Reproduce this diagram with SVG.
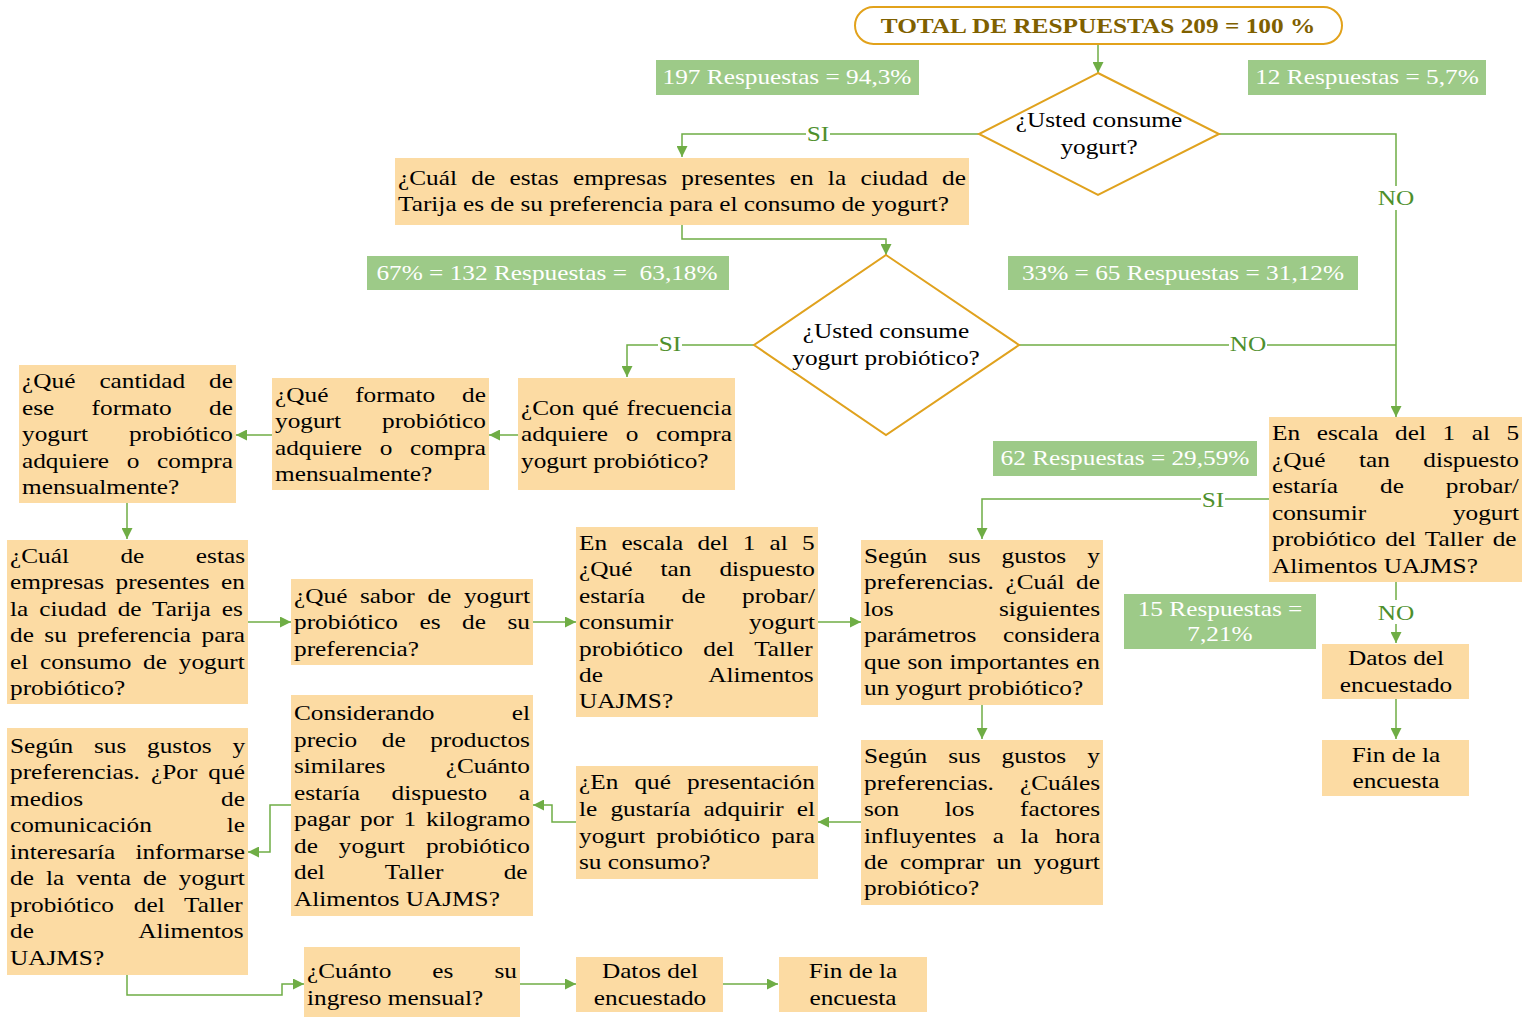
<svg xmlns="http://www.w3.org/2000/svg" width="1522" height="1018" viewBox="0 0 1522 1018">
<defs>
<marker id="ah" viewBox="0 0 10 10" refX="10" refY="5" markerWidth="11" markerHeight="11" markerUnits="userSpaceOnUse" orient="auto"><path d="M0,0 L10,5 L0,10 z" fill="#6FAD45"/></marker>
<style>
.box{fill:#FCDBA3}
.lab{fill:#9DCA88}
.dia{fill:#FFFFFF;stroke:#E0A21E;stroke-width:2}
.t{font-family:"Liberation Serif","Times New Roman",serif;font-size:20px;fill:#000}
.w{font-family:"Liberation Serif","Times New Roman",serif;font-size:20px;fill:#FFFFFF;text-anchor:middle;white-space:pre}
.c{text-anchor:middle}
.title{font-family:"Liberation Serif","Times New Roman",serif;font-size:22px;font-weight:bold;fill:#7F6000;text-anchor:middle}
.con{fill:none;stroke:#6FAD45;stroke-width:1.5}
.arr{marker-end:url(#ah)}
.cl{font-family:"Liberation Serif","Times New Roman",serif;font-size:20px;fill:#4E8F2C;text-anchor:middle}
</style>
</defs>
<rect width="1522" height="1018" fill="#FFFFFF"/>

<g id="connectors">
<path class="con arr" d="M1098,44 V73"/>
<path class="con arr" d="M979,134 H682 V157"/>
<path class="con arr" d="M1219,134 H1396 V417"/>
<path class="con arr" d="M682,225 V239 H886 V255"/>
<path class="con arr" d="M754,345 H627 V377"/>
<path class="con" d="M1019,345 H1396"/>
<path class="con arr" d="M518,435 H489"/>
<path class="con arr" d="M272,435 H236"/>
<path class="con arr" d="M127,503 V539"/>
<path class="con arr" d="M248,622 H291"/>
<path class="con arr" d="M533,622 H576"/>
<path class="con arr" d="M818,622 H861"/>
<path class="con arr" d="M1269,499 H982 V539"/>
<path class="con arr" d="M1396,582 V643"/>
<path class="con arr" d="M1396,699 V739"/>
<path class="con arr" d="M982,705 V739"/>
<path class="con arr" d="M861,822 H818"/>
<path class="con arr" d="M576,822 H552 V805 H533"/>
<path class="con arr" d="M291,805 H270 V852 H248"/>
<path class="con arr" d="M127,975 V995 H282 V984 H304"/>
<path class="con arr" d="M520,984 H576"/>
<path class="con arr" d="M723,984 H778"/>
<g fill="#FFFFFF">
<rect x="806" y="124" width="24" height="20"/>
<rect x="1377" y="186" width="38" height="24"/>
<rect x="658" y="334" width="24" height="20"/>
<rect x="1229" y="334" width="38" height="20"/>
<rect x="1201" y="489" width="24" height="20"/>
<rect x="1377" y="600" width="38" height="24"/>
</g>
<g transform="matrix(1.265 0 0 1 818 0)"><text class="cl" y="141">SI</text></g>
<g transform="matrix(1.265 0 0 1 1396 0)"><text class="cl" y="205">NO</text></g>
<g transform="matrix(1.265 0 0 1 670 0)"><text class="cl" y="351">SI</text></g>
<g transform="matrix(1.265 0 0 1 1248 0)"><text class="cl" y="351">NO</text></g>
<g transform="matrix(1.265 0 0 1 1213 0)"><text class="cl" y="507">SI</text></g>
<g transform="matrix(1.265 0 0 1 1396 0)"><text class="cl" y="620">NO</text></g>
</g>

<g id="n-total">
<rect x="855" y="7" width="487" height="37" rx="18.5" fill="#FFFFFF" stroke="#E2A21B" stroke-width="2"/>
<g transform="matrix(1.15 0 0 1 1098 0)"><text class="title" y="33">TOTAL DE RESPUESTAS 209 = 100 %</text></g>
</g>

<g id="lab-197">
<rect class="lab" x="656" y="60" width="263" height="35"/>
<g transform="matrix(1.265 0 0 1 787 0)"><text class="w" y="84">197 Respuestas = 94,3%</text></g>
</g>
<g id="lab-12">
<rect class="lab" x="1248" y="60" width="238" height="35"/>
<g transform="matrix(1.265 0 0 1 1367 0)"><text class="w" y="84">12 Respuestas = 5,7%</text></g>
</g>

<g id="d-consume">
<polygon class="dia" points="1098,73 1219,134 1098,195 979,134"/>
<g transform="matrix(1.265 0 0 1 1099 0)"><text class="t c" y="127">¿Usted consume</text><text class="t c" y="154">yogurt?</text></g>
</g>

<g id="n-empresas1">
<rect class="box" x="395" y="158" width="574" height="67"/>
<g transform="matrix(1.265 0 0 1 398 0)">
<text class="t" y="185" word-spacing="6.3">¿Cuál de estas empresas presentes en la ciudad de</text>
<text class="t" y="211">Tarija es de su preferencia para el consumo de yogurt?</text>
</g>
</g>

<g id="lab-67">
<rect class="lab" x="367" y="256" width="362" height="34"/>
<g transform="matrix(1.265 0 0 1 547 0)"><text class="w" y="280">67% = 132 Respuestas =  63,18%</text></g>
</g>
<g id="lab-33">
<rect class="lab" x="1008" y="256" width="350" height="34"/>
<g transform="matrix(1.265 0 0 1 1183 0)"><text class="w" y="280">33% = 65 Respuestas = 31,12%</text></g>
</g>

<g id="d-probiotico">
<polygon class="dia" points="886,255 1019,345 886,435 754,345"/>
<g transform="matrix(1.265 0 0 1 886 0)"><text class="t c" y="338">¿Usted consume</text><text class="t c" y="365">yogurt probiótico?</text></g>
</g>

<g id="n-frecuencia">
<rect class="box" x="518" y="378" width="217" height="112"/>
<g transform="matrix(1.265 0 0 1 521 0)">
<text class="t" y="415" word-spacing="1.2">¿Con qué frecuencia</text>
<text class="t" y="441" word-spacing="9">adquiere o compra</text>
<text class="t" y="468">yogurt probiótico?</text>
</g>
</g>

<g id="n-formato">
<rect class="box" x="272" y="378" width="217" height="112"/>
<g transform="matrix(1.265 0 0 1 275 0)">
<text class="t" y="402" word-spacing="16.2">¿Qué formato de</text>
<text class="t" y="428" word-spacing="27.4">yogurt probiótico</text>
<text class="t" y="455" word-spacing="9">adquiere o compra</text>
<text class="t" y="481">mensualmente?</text>
</g>
</g>

<g id="n-cantidad">
<rect class="box" x="19" y="365" width="217" height="138"/>
<g transform="matrix(1.265 0 0 1 22 0)">
<text class="t" y="388" word-spacing="14">¿Qué cantidad de</text>
<text class="t" y="415" word-spacing="24.5">ese formato de</text>
<text class="t" y="441" word-spacing="27.4">yogurt probiótico</text>
<text class="t" y="468" word-spacing="9">adquiere o compra</text>
<text class="t" y="494">mensualmente?</text>
</g>
</g>

<g id="n-empresas2">
<rect class="box" x="7" y="540" width="241" height="164"/>
<g transform="matrix(1.265 0 0 1 10 0)">
<text class="t" y="563" word-spacing="35.7">¿Cuál de estas</text>
<text class="t" y="589" word-spacing="4.05">empresas presentes en</text>
<text class="t" y="616" word-spacing="3.7">la ciudad de Tarija es</text>
<text class="t" y="642" word-spacing="3.3">de su preferencia para</text>
<text class="t" y="669" word-spacing="4.3">el consumo de yogurt</text>
<text class="t" y="695">probiótico?</text>
</g>
</g>

<g id="n-sabor">
<rect class="box" x="291" y="579" width="242" height="86"/>
<g transform="matrix(1.265 0 0 1 294 0)">
<text class="t" y="603" word-spacing="5">¿Qué sabor de yogurt</text>
<text class="t" y="629" word-spacing="12">probiótico es de su</text>
<text class="t" y="656">preferencia?</text>
</g>
</g>

<g id="n-escala1">
<rect class="box" x="576" y="527" width="242" height="190"/>
<g transform="matrix(1.265 0 0 1 579 0)">
<text class="t" y="550" word-spacing="6.3">En escala del 1 al 5</text>
<text class="t" y="576" word-spacing="17.2">¿Qué tan dispuesto</text>
<text class="t" y="603" word-spacing="23.9">estaría de probar/</text>
<text class="t" y="629" word-spacing="54.9">consumir yogurt</text>
<text class="t" y="656" word-spacing="11.1">probiótico del Taller</text>
<text class="t" y="682" word-spacing="79.4">de Alimentos</text>
<text class="t" y="708">UAJMS?</text>
</g>
</g>

<g id="n-parametros">
<rect class="box" x="861" y="540" width="242" height="165"/>
<g transform="matrix(1.265 0 0 1 864 0)">
<text class="t" y="563" word-spacing="11.6">Según sus gustos y</text>
<text class="t" y="589" word-spacing="4.15">preferencias. ¿Cuál de</text>
<text class="t" y="616" word-spacing="78.3">los siguientes</text>
<text class="t" y="642" word-spacing="16.1">parámetros considera</text>
<text class="t" y="669" word-spacing="0.5">que son importantes en</text>
<text class="t" y="695">un yogurt probiótico?</text>
</g>
</g>

<g id="lab-62">
<rect class="lab" x="993" y="441" width="264" height="35"/>
<g transform="matrix(1.265 0 0 1 1125 0)"><text class="w" y="465">62 Respuestas = 29,59%</text></g>
</g>

<g id="n-escala2">
<rect class="box" x="1269" y="417" width="253" height="165"/>
<g transform="matrix(1.265 0 0 1 1272 0)">
<text class="t" y="440" word-spacing="8.1">En escala del 1 al 5</text>
<text class="t" y="467" word-spacing="21.5">¿Qué tan dispuesto</text>
<text class="t" y="493" word-spacing="28.2">estaría de probar/</text>
<text class="t" y="520" word-spacing="63.6">consumir yogurt</text>
<text class="t" y="546" word-spacing="2.3">probiótico del Taller de</text>
<text class="t" y="573">Alimentos UAJMS?</text>
</g>
</g>

<g id="lab-15">
<rect class="lab" x="1124" y="594" width="192" height="55"/>
<g transform="matrix(1.265 0 0 1 1220 0)"><text class="w" y="616">15 Respuestas =</text><text class="w" y="641">7,21%</text></g>
</g>

<g id="n-datos1">
<rect class="box" x="1322" y="644" width="147" height="55"/>
<g transform="matrix(1.265 0 0 1 1396 0)"><text class="t c" y="665">Datos del</text><text class="t c" y="692">encuestado</text></g>
</g>

<g id="n-fin1">
<rect class="box" x="1322" y="740" width="147" height="56"/>
<g transform="matrix(1.265 0 0 1 1396 0)"><text class="t c" y="762">Fin de la</text><text class="t c" y="788">encuesta</text></g>
</g>

<g id="n-factores">
<rect class="box" x="861" y="740" width="242" height="165"/>
<g transform="matrix(1.265 0 0 1 864 0)">
<text class="t" y="763" word-spacing="11.6">Según sus gustos y</text>
<text class="t" y="790" word-spacing="15.6">preferencias. ¿Cuáles</text>
<text class="t" y="816" word-spacing="31.1">son los factores</text>
<text class="t" y="843" word-spacing="8">influyentes a la hora</text>
<text class="t" y="869" word-spacing="4.6">de comprar un yogurt</text>
<text class="t" y="895">probiótico?</text>
</g>
</g>

<g id="n-presentacion">
<rect class="box" x="576" y="766" width="242" height="113"/>
<g transform="matrix(1.265 0 0 1 579 0)">
<text class="t" y="789" word-spacing="7.75">¿En qué presentación</text>
<text class="t" y="816" word-spacing="5.4">le gustaría adquirir el</text>
<text class="t" y="843" word-spacing="3.85">yogurt probiótico para</text>
<text class="t" y="869">su consumo?</text>
</g>
</g>

<g id="n-precio">
<rect class="box" x="291" y="695" width="242" height="221"/>
<g transform="matrix(1.265 0 0 1 294 0)">
<text class="t" y="720" word-spacing="56.1">Considerando el</text>
<text class="t" y="747" word-spacing="14.4">precio de productos</text>
<text class="t" y="773" word-spacing="42.7">similares ¿Cuánto</text>
<text class="t" y="800" word-spacing="20">estaría dispuesto a</text>
<text class="t" y="826" word-spacing="2.8">pagar por 1 kilogramo</text>
<text class="t" y="853" word-spacing="11.6">de yogurt probiótico</text>
<text class="t" y="879" word-spacing="42.7">del Taller de</text>
<text class="t" y="906">Alimentos UAJMS?</text>
</g>
</g>

<g id="n-medios">
<rect class="box" x="7" y="728" width="241" height="247"/>
<g transform="matrix(1.265 0 0 1 10 0)">
<text class="t" y="753" word-spacing="11.4">Según sus gustos y</text>
<text class="t" y="779" word-spacing="3.75">preferencias. ¿Por qué</text>
<text class="t" y="806" word-spacing="104.1">medios de</text>
<text class="t" y="832" word-spacing="54.2">comunicación le</text>
<text class="t" y="859" word-spacing="10.9">interesaría informarse</text>
<text class="t" y="885" word-spacing="4.5">de la venta de yogurt</text>
<text class="t" y="912" word-spacing="10.7">probiótico del Taller</text>
<text class="t" y="938" word-spacing="78.6">de Alimentos</text>
<text class="t" y="965">UAJMS?</text>
</g>
</g>

<g id="n-ingreso">
<rect class="box" x="304" y="947" width="216" height="70"/>
<g transform="matrix(1.265 0 0 1 307 0)">
<text class="t" y="978" word-spacing="27.45">¿Cuánto es su</text>
<text class="t" y="1005">ingreso mensual?</text>
</g>
</g>

<g id="n-datos2">
<rect class="box" x="576" y="957" width="147" height="55"/>
<g transform="matrix(1.265 0 0 1 650 0)"><text class="t c" y="978">Datos del</text><text class="t c" y="1005">encuestado</text></g>
</g>

<g id="n-fin2">
<rect class="box" x="779" y="957" width="148" height="55"/>
<g transform="matrix(1.265 0 0 1 853 0)"><text class="t c" y="978">Fin de la</text><text class="t c" y="1005">encuesta</text></g>
</g>
</svg>
